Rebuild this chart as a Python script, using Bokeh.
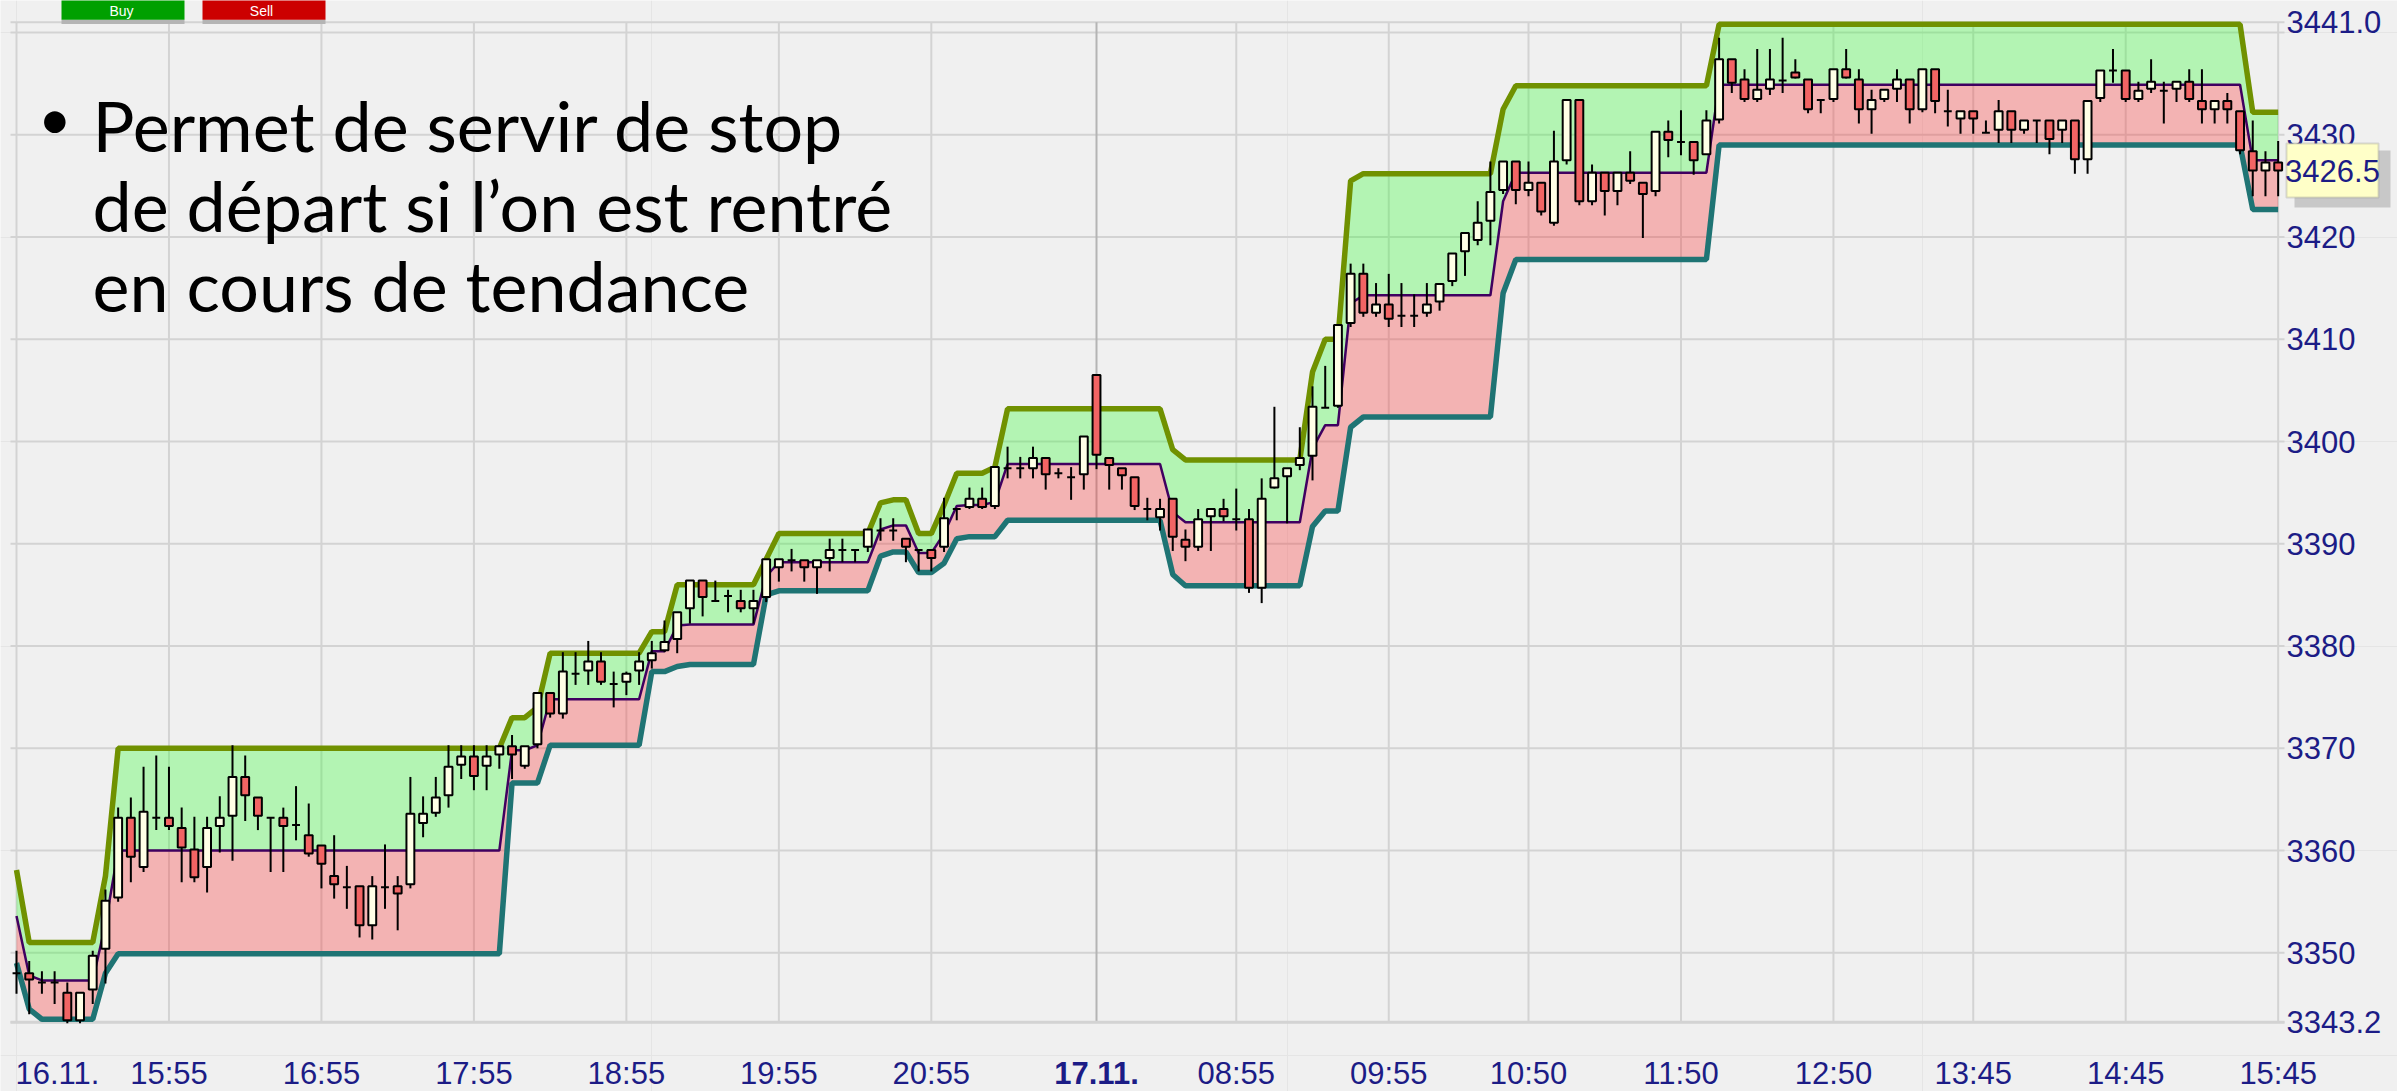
from bokeh.plotting import figure
from bokeh.models import (ColumnDataSource, Label, LabelSet, BoxAnnotation, Range1d)
from bokeh.embed import file_html
from bokeh.resources import INLINE
from bokeh.core.properties import value

# ---------------- data ----------------
opens = [
    3348.0, 3348.0, 3347.1, 3347.1, 3346.1, 3343.4, 3346.4, 3350.4, 3355.4, 3363.2,
    3358.4, 3363.2, 3363.2, 3362.2, 3360.1, 3358.4, 3362.4, 3363.4, 3367.2, 3365.2,
    3363.2, 3363.2, 3362.5, 3361.5, 3360.5, 3357.5, 3356.4, 3356.5, 3352.7, 3356.4,
    3356.5, 3356.7, 3362.7, 3363.7, 3365.4, 3368.4, 3369.2, 3368.3, 3369.4, 3370.2,
    3368.3, 3370.4, 3375.4, 3373.4, 3377.3, 3377.6, 3378.5, 3376.3, 3376.5, 3377.6,
    3378.6, 3379.6, 3380.7, 3383.7, 3386.4, 3384.4, 3384.9, 3384.4, 3383.7, 3384.8,
    3387.7, 3388.4, 3388.4, 3387.7, 3388.6, 3389.4, 3389.4, 3389.7, 3391.3, 3391.3,
    3390.5, 3389.4, 3389.4, 3389.7, 3393.4, 3393.6, 3394.4, 3393.7, 3397.4, 3397.4,
    3397.4, 3398.4, 3396.9, 3396.5, 3396.8, 3406.5, 3398.4, 3397.4, 3396.5, 3393.4,
    3392.6, 3394.4, 3390.4, 3389.7, 3392.7, 3393.4, 3392.4, 3392.4, 3385.7, 3395.5,
    3396.6, 3397.7, 3398.6, 3403.3, 3403.5, 3411.6, 3416.4, 3412.6, 3413.4, 3412.3,
    3412.3, 3412.6, 3413.7, 3415.7, 3418.6, 3419.7, 3421.6, 3424.6, 3427.4, 3424.6,
    3425.3, 3421.4, 3427.5, 3433.4, 3423.5, 3426.3, 3424.5, 3426.3, 3425.3, 3424.5,
    3430.3, 3429.3, 3429.3, 3428.1, 3431.5, 3437.4, 3435.4, 3433.5, 3434.5, 3435.3,
    3436.1, 3435.4, 3433.4, 3433.5, 3436.4, 3435.4, 3432.5, 3433.5, 3434.5, 3435.4,
    3432.5, 3436.4, 3432.3, 3431.6, 3432.3, 3430.2, 3430.5, 3432.3, 3430.5, 3431.4,
    3431.4, 3430.5, 3431.4, 3427.6, 3433.6, 3436.3, 3436.3, 3433.5, 3434.5, 3434.3,
    3434.5, 3435.2, 3433.3, 3432.5, 3433.3, 3432.3, 3428.4, 3426.5, 3427.3,
]
highs = [
    3350.2, 3349.2, 3348.2, 3348.2, 3347.1, 3346.1, 3350.2, 3356.2, 3364.2, 3365.2,
    3368.2, 3369.3, 3368.2, 3364.2, 3363.3, 3363.3, 3365.3, 3370.3, 3369.3, 3365.2,
    3363.2, 3364.2, 3366.3, 3364.6, 3360.5, 3361.5, 3358.5, 3356.5, 3357.5, 3360.6,
    3357.5, 3367.2, 3365.3, 3367.2, 3370.3, 3370.3, 3370.3, 3370.3, 3370.3, 3371.3,
    3370.2, 3375.4, 3375.4, 3379.4, 3379.4, 3380.5, 3379.4, 3377.5, 3377.5, 3379.4,
    3380.5, 3382.5, 3383.3, 3386.4, 3386.4, 3386.4, 3385.5, 3385.5, 3385.5, 3388.5,
    3388.5, 3389.5, 3388.4, 3388.4, 3390.5, 3390.5, 3389.4, 3391.4, 3392.5, 3392.5,
    3390.5, 3389.4, 3389.4, 3394.5, 3393.4, 3395.5, 3395.5, 3397.5, 3399.5, 3398.5,
    3399.5, 3398.4, 3397.4, 3397.5, 3400.5, 3406.5, 3398.4, 3397.4, 3396.5, 3394.5,
    3394.4, 3394.4, 3391.4, 3393.4, 3393.4, 3394.4, 3395.4, 3393.4, 3396.4, 3403.4,
    3397.4, 3401.4, 3405.4, 3407.4, 3411.4, 3417.4, 3417.4, 3415.5, 3416.4, 3415.5,
    3414.4, 3415.5, 3415.4, 3418.4, 3420.4, 3423.5, 3427.4, 3427.4, 3427.4, 3427.4,
    3425.3, 3430.4, 3433.4, 3433.4, 3427.1, 3426.3, 3426.3, 3428.4, 3425.3, 3430.3,
    3431.4, 3432.4, 3429.3, 3432.4, 3439.5, 3437.4, 3436.4, 3438.4, 3438.4, 3439.5,
    3437.4, 3435.4, 3433.4, 3436.4, 3438.4, 3436.4, 3434.4, 3434.4, 3436.4, 3435.4,
    3436.4, 3436.4, 3434.4, 3432.3, 3432.3, 3431.4, 3433.4, 3432.3, 3431.4, 3431.4,
    3431.4, 3431.4, 3431.4, 3433.3, 3436.3, 3438.4, 3436.3, 3435.2, 3437.4, 3435.2,
    3435.2, 3436.4, 3436.4, 3433.3, 3434.1, 3432.3, 3431.4, 3428.4, 3429.4,
]
lows = [
    3346.0, 3344.0, 3346.0, 3345.0, 3343.1, 3343.1, 3345.0, 3347.0, 3355.0, 3356.9,
    3357.9, 3362.0, 3362.0, 3356.9, 3356.9, 3355.9, 3359.8, 3359.0, 3362.9, 3362.0,
    3357.9, 3357.9, 3361.0, 3359.4, 3356.3, 3355.3, 3354.3, 3351.5, 3351.3, 3354.3,
    3352.2, 3356.3, 3361.3, 3363.3, 3364.2, 3367.0, 3365.9, 3365.9, 3368.0, 3367.0,
    3368.0, 3370.0, 3373.0, 3372.9, 3376.2, 3376.2, 3376.2, 3374.0, 3375.2, 3376.2,
    3377.8, 3379.4, 3379.3, 3382.2, 3382.9, 3384.4, 3383.3, 3383.3, 3382.2, 3384.3,
    3386.3, 3387.3, 3386.3, 3385.1, 3387.3, 3388.2, 3388.2, 3389.2, 3390.3, 3390.3,
    3388.2, 3387.3, 3387.3, 3389.2, 3392.3, 3393.4, 3393.4, 3393.4, 3396.4, 3396.4,
    3396.4, 3395.3, 3396.4, 3394.3, 3395.3, 3397.3, 3395.3, 3395.3, 3393.3, 3392.3,
    3391.3, 3389.3, 3388.3, 3389.3, 3389.3, 3392.2, 3391.3, 3385.2, 3384.2, 3395.4,
    3392.0, 3397.2, 3396.2, 3403.3, 3403.3, 3411.2, 3412.2, 3412.2, 3411.2, 3411.2,
    3411.2, 3412.2, 3412.8, 3415.2, 3416.2, 3419.2, 3419.2, 3424.2, 3423.2, 3424.0,
    3422.1, 3421.1, 3427.1, 3423.1, 3423.1, 3422.1, 3423.1, 3425.2, 3419.9, 3424.0,
    3427.8, 3428.0, 3426.1, 3428.1, 3431.1, 3434.1, 3433.2, 3433.2, 3433.9, 3434.1,
    3435.5, 3432.1, 3432.1, 3433.2, 3435.5, 3431.1, 3430.1, 3433.2, 3433.2, 3431.1,
    3432.2, 3432.1, 3430.8, 3430.1, 3430.1, 3430.2, 3429.2, 3429.2, 3430.1, 3429.2,
    3428.1, 3429.2, 3426.2, 3426.2, 3433.2, 3435.1, 3433.2, 3433.2, 3434.1, 3431.1,
    3433.2, 3433.2, 3431.1, 3431.1, 3431.1, 3428.1, 3424.0, 3424.0, 3424.0,
]
closes = [
    3348.0, 3347.4, 3347.1, 3347.1, 3343.4, 3346.1, 3349.7, 3355.1, 3363.2, 3359.4,
    3363.8, 3363.2, 3362.4, 3360.3, 3357.4, 3362.2, 3363.2, 3367.2, 3365.4, 3363.4,
    3363.2, 3362.4, 3362.5, 3359.7, 3358.7, 3356.7, 3356.4, 3352.7, 3356.5, 3356.4,
    3355.8, 3363.6, 3363.6, 3365.2, 3368.2, 3369.2, 3367.3, 3369.2, 3370.2, 3369.4,
    3370.2, 3375.4, 3373.4, 3377.5, 3377.3, 3378.5, 3376.5, 3376.3, 3377.3, 3378.5,
    3379.3, 3380.4, 3383.3, 3386.4, 3384.8, 3384.4, 3384.9, 3383.7, 3384.4, 3388.5,
    3388.5, 3388.4, 3387.7, 3388.4, 3389.4, 3389.4, 3389.4, 3391.4, 3391.3, 3391.3,
    3389.7, 3389.4, 3388.6, 3392.5, 3393.4, 3394.4, 3393.6, 3397.5, 3397.4, 3397.4,
    3398.4, 3396.8, 3396.9, 3396.5, 3400.5, 3398.7, 3397.7, 3396.7, 3393.7, 3393.4,
    3393.4, 3390.7, 3389.7, 3392.4, 3393.4, 3392.7, 3392.4, 3385.7, 3394.4, 3396.4,
    3397.4, 3398.4, 3403.4, 3403.3, 3411.4, 3416.4, 3412.6, 3413.4, 3412.0, 3412.3,
    3412.3, 3413.4, 3415.4, 3418.4, 3420.4, 3421.4, 3424.4, 3427.4, 3424.6, 3425.3,
    3422.5, 3427.4, 3433.4, 3423.5, 3426.3, 3424.5, 3426.3, 3425.5, 3424.2, 3430.3,
    3429.5, 3429.3, 3427.5, 3431.4, 3437.4, 3435.1, 3433.5, 3434.4, 3435.4, 3435.3,
    3435.6, 3432.5, 3433.4, 3436.4, 3435.6, 3432.5, 3433.4, 3434.4, 3435.4, 3432.5,
    3436.4, 3433.3, 3432.3, 3432.3, 3431.6, 3430.2, 3432.3, 3430.5, 3431.4, 3431.4,
    3429.6, 3431.4, 3427.6, 3433.3, 3436.3, 3436.3, 3433.5, 3434.3, 3435.2, 3434.3,
    3435.2, 3433.5, 3432.5, 3433.3, 3432.5, 3428.5, 3426.5, 3427.3, 3426.5,
]
channel_upper = [
    3358.1, 3351.0, 3351.0, 3351.0, 3351.0, 3351.0, 3351.0, 3357.5, 3370.0, 3370.0,
    3370.0, 3370.0, 3370.0, 3370.0, 3370.0, 3370.0, 3370.0, 3370.0, 3370.0, 3370.0,
    3370.0, 3370.0, 3370.0, 3370.0, 3370.0, 3370.0, 3370.0, 3370.0, 3370.0, 3370.0,
    3370.0, 3370.0, 3370.0, 3370.0, 3370.0, 3370.0, 3370.0, 3370.0, 3370.0, 3373.0,
    3373.0, 3374.0, 3379.3, 3379.3, 3379.3, 3379.3, 3379.3, 3379.3, 3379.3, 3379.3,
    3381.4, 3381.4, 3386.0, 3386.0, 3386.0, 3386.0, 3386.0, 3386.0, 3386.0, 3388.5,
    3391.0, 3391.0, 3391.0, 3391.0, 3391.0, 3391.0, 3391.0, 3391.0, 3394.0, 3394.3,
    3394.3, 3391.0, 3391.0, 3393.8, 3396.9, 3396.9, 3396.9, 3397.5, 3403.2, 3403.2,
    3403.2, 3403.2, 3403.2, 3403.2, 3403.2, 3403.2, 3403.2, 3403.2, 3403.2, 3403.2,
    3403.2, 3399.2, 3398.2, 3398.2, 3398.2, 3398.2, 3398.2, 3398.2, 3398.2, 3398.2,
    3398.2, 3398.2, 3406.8, 3410.0, 3410.0, 3425.5, 3426.2, 3426.2, 3426.2, 3426.2,
    3426.2, 3426.2, 3426.2, 3426.2, 3426.2, 3426.2, 3426.2, 3432.5, 3434.8, 3434.8,
    3434.8, 3434.8, 3434.8, 3434.8, 3434.8, 3434.8, 3434.8, 3434.8, 3434.8, 3434.8,
    3434.8, 3434.8, 3434.8, 3434.8, 3440.8, 3440.8, 3440.8, 3440.8, 3440.8, 3440.8,
    3440.8, 3440.8, 3440.8, 3440.8, 3440.8, 3440.8, 3440.8, 3440.8, 3440.8, 3440.8,
    3440.8, 3440.8, 3440.8, 3440.8, 3440.8, 3440.8, 3440.8, 3440.8, 3440.8, 3440.8,
    3440.8, 3440.8, 3440.8, 3440.8, 3440.8, 3440.8, 3440.8, 3440.8, 3440.8, 3440.8,
    3440.8, 3440.8, 3440.8, 3440.8, 3440.8, 3440.8, 3432.2, 3432.2, 3432.2,
]
channel_middle = [
    3353.6, 3347.8, 3347.3, 3347.3, 3347.3, 3347.3, 3347.3, 3352.8, 3360.0, 3360.0,
    3360.0, 3360.0, 3360.0, 3360.0, 3360.0, 3360.0, 3360.0, 3360.0, 3360.0, 3360.0,
    3360.0, 3360.0, 3360.0, 3360.0, 3360.0, 3360.0, 3360.0, 3360.0, 3360.0, 3360.0,
    3360.0, 3360.0, 3360.0, 3360.0, 3360.0, 3360.0, 3360.0, 3360.0, 3360.0, 3369.8,
    3369.8, 3370.3, 3374.8, 3374.8, 3374.8, 3374.8, 3374.8, 3374.8, 3374.8, 3374.8,
    3379.5, 3379.5, 3382.0, 3382.1, 3382.1, 3382.1, 3382.1, 3382.1, 3382.1, 3386.8,
    3388.2, 3388.2, 3388.2, 3388.2, 3388.2, 3388.2, 3388.2, 3388.2, 3391.4, 3391.8,
    3391.8, 3389.1, 3389.1, 3391.0, 3393.7, 3393.8, 3393.8, 3394.1, 3397.8, 3397.8,
    3397.8, 3397.8, 3397.8, 3397.8, 3397.8, 3397.8, 3397.8, 3397.8, 3397.8, 3397.8,
    3397.8, 3393.1, 3392.1, 3392.1, 3392.1, 3392.1, 3392.1, 3392.1, 3392.1, 3392.1,
    3392.1, 3392.1, 3399.3, 3401.6, 3401.6, 3413.5, 3414.3, 3414.3, 3414.3, 3414.3,
    3414.3, 3414.3, 3414.3, 3414.3, 3414.3, 3414.3, 3414.3, 3423.5, 3426.3, 3426.3,
    3426.3, 3426.3, 3426.3, 3426.3, 3426.3, 3426.3, 3426.3, 3426.3, 3426.3, 3426.3,
    3426.3, 3426.3, 3426.3, 3426.3, 3434.9, 3434.9, 3434.9, 3434.9, 3434.9, 3434.9,
    3434.9, 3434.9, 3434.9, 3434.9, 3434.9, 3434.9, 3434.9, 3434.9, 3434.9, 3434.9,
    3434.9, 3434.9, 3434.9, 3434.9, 3434.9, 3434.9, 3434.9, 3434.9, 3434.9, 3434.9,
    3434.9, 3434.9, 3434.9, 3434.9, 3434.9, 3434.9, 3434.9, 3434.9, 3434.9, 3434.9,
    3434.9, 3434.9, 3434.9, 3434.9, 3434.9, 3434.9, 3427.5, 3427.5, 3427.5,
]
channel_lower = [
    3349.0, 3344.5, 3343.5, 3343.5, 3343.5, 3343.5, 3343.5, 3348.0, 3349.9, 3349.9,
    3349.9, 3349.9, 3349.9, 3349.9, 3349.9, 3349.9, 3349.9, 3349.9, 3349.9, 3349.9,
    3349.9, 3349.9, 3349.9, 3349.9, 3349.9, 3349.9, 3349.9, 3349.9, 3349.9, 3349.9,
    3349.9, 3349.9, 3349.9, 3349.9, 3349.9, 3349.9, 3349.9, 3349.9, 3349.9, 3366.6,
    3366.6, 3366.6, 3370.3, 3370.3, 3370.3, 3370.3, 3370.3, 3370.3, 3370.3, 3370.3,
    3377.5, 3377.5, 3378.0, 3378.2, 3378.2, 3378.2, 3378.2, 3378.2, 3378.2, 3385.0,
    3385.4, 3385.4, 3385.4, 3385.4, 3385.4, 3385.4, 3385.4, 3385.4, 3388.8, 3389.2,
    3389.2, 3387.2, 3387.2, 3388.1, 3390.5, 3390.7, 3390.7, 3390.7, 3392.3, 3392.3,
    3392.3, 3392.3, 3392.3, 3392.3, 3392.3, 3392.3, 3392.3, 3392.3, 3392.3, 3392.3,
    3392.3, 3387.0, 3385.9, 3385.9, 3385.9, 3385.9, 3385.9, 3385.9, 3385.9, 3385.9,
    3385.9, 3385.9, 3391.7, 3393.2, 3393.2, 3401.4, 3402.4, 3402.4, 3402.4, 3402.4,
    3402.4, 3402.4, 3402.4, 3402.4, 3402.4, 3402.4, 3402.4, 3414.5, 3417.8, 3417.8,
    3417.8, 3417.8, 3417.8, 3417.8, 3417.8, 3417.8, 3417.8, 3417.8, 3417.8, 3417.8,
    3417.8, 3417.8, 3417.8, 3417.8, 3429.0, 3429.0, 3429.0, 3429.0, 3429.0, 3429.0,
    3429.0, 3429.0, 3429.0, 3429.0, 3429.0, 3429.0, 3429.0, 3429.0, 3429.0, 3429.0,
    3429.0, 3429.0, 3429.0, 3429.0, 3429.0, 3429.0, 3429.0, 3429.0, 3429.0, 3429.0,
    3429.0, 3429.0, 3429.0, 3429.0, 3429.0, 3429.0, 3429.0, 3429.0, 3429.0, 3429.0,
    3429.0, 3429.0, 3429.0, 3429.0, 3429.0, 3429.0, 3422.7, 3422.7, 3422.7,
]

time_tick_idx = [0, 12, 24, 36, 48, 60, 72, 85, 96, 108, 119, 131, 143, 154, 166, 178]
time_tick_labels = ["16.11.", "15:55", "16:55", "17:55", "18:55", "19:55", "20:55", "17.11.",
                    "08:55", "09:55", "10:50", "11:50", "12:50", "13:45", "14:45", "15:45"]
day_break_idx = 85
price_axis_ticks = [3343.2, 3350, 3360, 3370, 3380, 3390, 3400, 3410, 3420, 3430, 3441.0]
price_axis_labels = ["3343.2", "3350", "3360", "3370", "3380", "3390", "3400", "3410",
                     "3420", "3430", "3441.0"]
price_grid_ticks = [3343.2, 3350, 3360, 3370, 3380, 3390, 3400, 3410, 3420, 3430, 3440, 3441.0]
last_price = 3426.5
bullet_lines = ["Permet de servir de stop", "de départ si l’on est rentré", "en cours de tendance"]

n = len(closes)
for arr in (opens, highs, lows, channel_upper, channel_middle, channel_lower):
    assert len(arr) == n, len(arr)

# ---------------- layout (pixels of the page) ----------------
W, H = 2397, 1091
X0_PX, X_STEP_PX = 16.0, 12.706          # first candle centre, candle spacing
Y_REF, Y_REF_PX, Y_PX_PER_UNIT = 3350.0, 952.3, 10.225
x_start = (0 - X0_PX) / X_STEP_PX
x_end = (W - X0_PX) / X_STEP_PX
y_end = Y_REF + Y_REF_PX / Y_PX_PER_UNIT
y_start = Y_REF - (H - Y_REF_PX) / Y_PX_PER_UNIT


def xi(px):   # page x pixel -> index units
    return (px - X0_PX) / X_STEP_PX


def yp(py):   # page y pixel -> price units
    return Y_REF + (Y_REF_PX - py) / Y_PX_PER_UNIT


area_left, area_right = xi(10), xi(2278)      # price pane edges
grid_right = xi(2284)
area_bottom, area_top = price_axis_ticks[0], price_axis_ticks[-1]

# ---------------- styles ----------------
BG = "#f0f0f0"
GRID = "#d3d3d3"
AXIS_TXT = "#1c1c86"
AX_FONT = "Liberation Sans"
AX_SIZE = "31px"
UP_FILL = "#ffffe6"
DOWN_FILL = "#f26464"

src = ColumnDataSource(dict(
    x=list(range(n)), o=opens, h=highs, l=lows, c=closes,
    up=channel_upper, mid=channel_middle, lo=channel_lower,
    top=[max(a, b) for a, b in zip(opens, closes)],
    bot=[min(a, b) for a, b in zip(opens, closes)],
    col=[UP_FILL if c >= o else DOWN_FILL for o, c in zip(opens, closes)],
))

p = figure(width=W, height=H, output_backend="svg", toolbar_location=None,
           x_range=Range1d(x_start, x_end), y_range=Range1d(y_start, y_end),
           x_axis_location=None, y_axis_location=None, min_border=0,
           background_fill_color=BG, border_fill_color=BG)
p.outline_line_color = None

# grid lines of the price pane (from the tick lists)
hg = [t for t in price_grid_ticks]
p.segment(x0=[area_left] * len(hg), y0=hg, x1=[grid_right] * len(hg), y1=hg,
          line_color=GRID, line_width=2)
vg = [t for t in time_tick_idx if t != day_break_idx]
p.segment(x0=vg, y0=[area_bottom] * len(vg), x1=vg, y1=[area_top] * len(vg),
          line_color=GRID, line_width=2)
p.segment(x0=[day_break_idx], y0=[area_bottom], x1=[day_break_idx], y1=[area_top],
          line_color="#b4b4b4", line_width=2)
p.segment(x0=[area_left], y0=[area_bottom], x1=[grid_right], y1=[area_bottom],
          line_color=GRID, line_width=3)

# channel
p.varea(x="x", y1="mid", y2="up", source=src, fill_color="#28ff28", fill_alpha=0.3)
p.varea(x="x", y1="lo", y2="mid", source=src, fill_color="#fd2828", fill_alpha=0.3)
p.line("x", "up", source=src, line_color="#709100", line_width=5.5)
p.line("x", "lo", source=src, line_color="#1f7474", line_width=5.5)
p.line("x", "mid", source=src, line_color="#400060", line_width=2.5)

# candles
p.segment(x0="x", y0="l", x1="x", y1="h", source=src, line_color="black", line_width=2)
p.vbar(x="x", width=0.62, top="top", bottom="bot", source=src,
       fill_color="col", line_color="black", line_width=2)

# price scale labels (right)
p.add_layout(LabelSet(x=area_right, y="y", x_offset=8, text="text",
                      source=ColumnDataSource(dict(y=price_axis_ticks, text=price_axis_labels)),
                      text_align="left", text_baseline="middle",
                      text_font=value(AX_FONT), text_font_size=value(AX_SIZE),
                      text_color=AXIS_TXT))

# time labels (bottom)
lab_idx = [t for t in time_tick_idx if t not in (time_tick_idx[0], day_break_idx)]
lab_txt = [time_tick_labels[time_tick_idx.index(t)] for t in lab_idx]
p.add_layout(LabelSet(x="x", y=area_bottom, y_offset=-51, text="text",
                      source=ColumnDataSource(dict(x=lab_idx, text=lab_txt)),
                      text_align="center", text_baseline="middle",
                      text_font=value(AX_FONT), text_font_size=value(AX_SIZE),
                      text_color=AXIS_TXT))
p.add_layout(Label(x=time_tick_idx[0], y=area_bottom, x_offset=-1, y_offset=-51,
                   text=time_tick_labels[0], text_align="left", text_baseline="middle",
                   text_font=AX_FONT, text_font_size=AX_SIZE, text_color=AXIS_TXT))
p.add_layout(Label(x=day_break_idx, y=area_bottom, y_offset=-51,
                   text=time_tick_labels[time_tick_idx.index(day_break_idx)],
                   text_align="center", text_baseline="middle", text_font_style="bold",
                   text_font=AX_FONT, text_font_size=AX_SIZE, text_color=AXIS_TXT))

# Buy / Sell buttons (at the top edge)
p.add_layout(BoxAnnotation(left=xi(61), right=xi(184), bottom=yp(23.5), top=yp(19.3),
                           fill_color="#b4b4b4", fill_alpha=1.0, line_color=None))
p.add_layout(BoxAnnotation(left=xi(202), right=xi(325), bottom=yp(23.5), top=yp(19.3),
                           fill_color="#b4b4b4", fill_alpha=1.0, line_color=None))
p.add_layout(BoxAnnotation(left=xi(61), right=xi(184), bottom=yp(19.3), top=yp(-2),
                           fill_color="#00a000", fill_alpha=1.0, line_color=None))
p.add_layout(BoxAnnotation(left=xi(202), right=xi(325), bottom=yp(19.3), top=yp(-2),
                           fill_color="#cc0000", fill_alpha=1.0, line_color=None))
p.add_layout(Label(x=xi(121), y=yp(10), text="Buy", text_align="center", text_baseline="middle",
                   text_font="Liberation Sans", text_font_size="14px", text_color="white"))
p.add_layout(Label(x=xi(261), y=yp(10), text="Sell", text_align="center", text_baseline="middle",
                   text_font="Liberation Sans", text_font_size="14px", text_color="white"))

# last price marker
p.add_layout(BoxAnnotation(left=xi(2294), right=xi(2390), bottom=yp(207), top=yp(150),
                           fill_color="#c8c8c8", fill_alpha=1.0, line_color=None))
p.add_layout(BoxAnnotation(left=xi(2286), right=xi(2378), bottom=yp(197), top=yp(143),
                           fill_color="#ffffc8", fill_alpha=1.0, line_color="#8c8c8c",
                           line_width=2))
p.add_layout(Label(x=xi(2332), y=last_price, text=f"{last_price:.1f}", text_align="center",
                   text_baseline="middle", text_font=AX_FONT, text_font_size=AX_SIZE,
                   text_color=AXIS_TXT))

# bullet text
p.add_layout(Label(x=xi(54.4), y=yp(117), text="•", text_align="center", text_baseline="middle",
                   text_font="Lato", text_font_size="58px", text_color="black"))
for line_txt, py in zip(bullet_lines, [124.6, 204.7, 284.7]):
    p.add_layout(Label(x=xi(92), y=yp(py), text=line_txt, text_align="left",
                       text_baseline="middle", text_font="Lato", text_font_size="70px",
                       text_color="black"))

open("out.html", "w").write(file_html(p, INLINE))
